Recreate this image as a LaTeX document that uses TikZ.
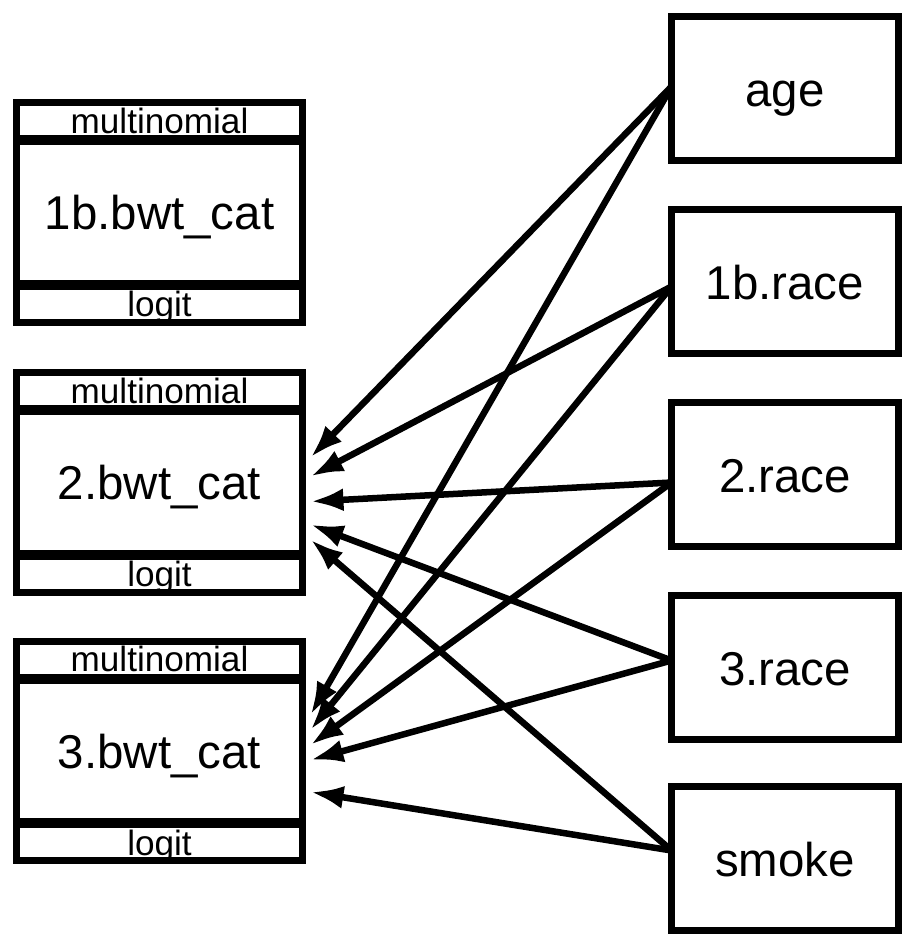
\documentclass[tikz,border=0pt]{standalone}
\usepackage{fontspec}
\setmainfont{Liberation Sans}
\usetikzlibrary{positioning,arrows.meta}

\begin{document}
\begin{tikzpicture}[x=0.02cm, y=-0.02cm,
    outcome/.style={draw, line width=0.14cm, minimum width=5.72cm, minimum height=2.84cm,
        inner sep=0pt, outer sep=0pt, text height=0.68cm, text depth=0pt,
        font=\fontsize{27}{30}\selectfont},
    band/.style={draw, line width=0.14cm, minimum width=5.72cm, minimum height=0.72cm,
        inner sep=0pt, outer sep=0pt, text height=0.5cm, text depth=0pt,
        font=\fontsize{20}{22}\selectfont},
    covar/.style={draw, line width=0.14cm, minimum width=4.54cm, minimum height=2.88cm,
        inner sep=0pt, outer sep=0pt, text height=0.72cm, text depth=0pt,
        font=\fontsize{27}{30}\selectfont},
    effect/.style={-{Latex[length=0.66cm,width=0.46cm]}, line width=0.13cm}]
    \useasboundingbox (0,0) rectangle (903,938);
    % outcomes
    \node[outcome] (bwt1) at (159.5,212.5) {1b.bwt\_cat};
    \node[band, above=0.06cm of bwt1] (fam1) {multinomial};
    \node[band, below=0.06cm of bwt1] (link1) {logit};
    \node[outcome] (bwt2) at (159.5,482.5) {2.bwt\_cat};
    \node[band, above=0.06cm of bwt2] (fam2) {multinomial};
    \node[band, below=0.06cm of bwt2] (link2) {logit};
    \node[outcome] (bwt3) at (159.5,751) {3.bwt\_cat};
    \node[band, above=0.06cm of bwt3] (fam3) {multinomial};
    \node[band, below=0.06cm of bwt3] (link3) {logit};
    % covariates
    \node[covar] (age) at (785,88.5) {age};
    \node[covar] (race1) at (785,281.5) {1b.race};
    \node[covar] (race2) at (785,474.5) {2.race};
    \node[covar] (race3) at (785,667.5) {3.race};
    \node[covar] (smoke) at (785,858.5) {smoke};
    % paths
    \draw[effect] ([shift={(0,-2)}]age.west) -- ([shift={(8,-25)}]bwt2.east);
    \draw[effect] ([shift={(0,-2)}]age.west) -- ([shift={(8,-36)}]bwt3.east);
    \draw[effect] ([shift={(0,5)}]race1.west) -- ([shift={(8,-6)}]bwt2.east);
    \draw[effect] ([shift={(0,5)}]race1.west) -- ([shift={(8,-21)}]bwt3.east);
    \draw[effect] ([shift={(0,8)}]race2.west) -- ([shift={(8,19)}]bwt2.east);
    \draw[effect] ([shift={(0,8)}]race2.west) -- ([shift={(8,-6)}]bwt3.east);
    \draw[effect] ([shift={(0,-7)}]race3.west) -- ([shift={(8,42)}]bwt2.east);
    \draw[effect] ([shift={(0,-7)}]race3.west) -- ([shift={(8,9)}]bwt3.east);
    \draw[effect] ([shift={(0,-8)}]smoke.west) -- ([shift={(8,57)}]bwt2.east);
    \draw[effect] ([shift={(0,-8)}]smoke.west) -- ([shift={(8,41)}]bwt3.east);
\end{tikzpicture}
\end{document}
